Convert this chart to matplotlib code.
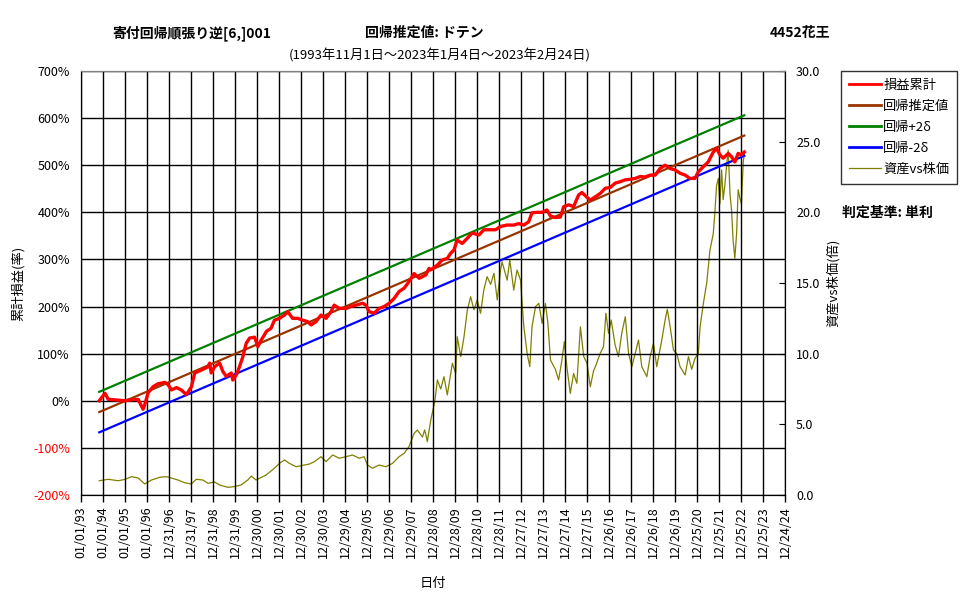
import matplotlib
matplotlib.use("Agg")
import matplotlib.pyplot as plt
import matplotlib.dates as mdates
import numpy as np
import pandas as pd

plt.rcParams['font.family'] = ['Noto Sans CJK JP', 'DejaVu Sans']

# ---------------- data ----------------
# time values are decimal years (1 year = 365 days from 1993-01-01)
red_t = [1993.83, 1994.09, 1994.24, 1994.54, 1994.99, 1995.30, 1995.60, 1995.82, 1995.90, 1996.05,
         1996.28, 1996.50, 1996.81, 1996.96, 1997.11, 1997.34, 1997.56, 1997.79, 1998.02, 1998.17,
         1998.47, 1998.77, 1998.85, 1998.92, 1999.07, 1999.30, 1999.45, 1999.60, 1999.83, 1999.90,
         2000.06, 2000.21, 2000.36, 2000.51, 2000.66, 2000.89, 2001.04, 2001.19, 2001.34, 2001.42,
         2001.64, 2001.79, 2002.02, 2002.25, 2002.40, 2002.62, 2002.85, 2003.08, 2003.30, 2003.46,
         2003.68, 2003.91, 2004.14, 2004.36, 2004.51, 2004.74, 2005.04, 2005.27, 2005.50, 2005.80,
         2005.95, 2006.10, 2006.33, 2006.55, 2006.78, 2007.01, 2007.23, 2007.46, 2007.69, 2007.91,
         2008.14, 2008.37, 2008.67, 2008.82, 2008.90, 2009.20, 2009.42, 2009.65, 2009.80, 2009.95,
         2010.10, 2010.33, 2010.56, 2010.78, 2011.09, 2011.31, 2011.62, 2011.84, 2012.07, 2012.37,
         2012.67, 2012.90, 2013.13, 2013.35, 2013.50, 2013.73, 2013.96, 2014.18, 2014.34, 2014.56,
         2014.79, 2014.94, 2015.17, 2015.39, 2015.62, 2015.77, 2016.00, 2016.15, 2016.38, 2016.60,
         2016.83, 2017.06, 2017.28, 2017.51, 2017.74, 2017.96, 2018.19, 2018.42, 2018.64, 2018.87,
         2019.10, 2019.32, 2019.55, 2019.78, 2020.00, 2020.23, 2020.46, 2020.68, 2020.91, 2021.06,
         2021.29, 2021.51, 2021.74, 2021.89, 2022.04, 2022.19, 2022.42, 2022.57, 2022.72, 2022.87,
         2023.02, 2023.15]
red_v = [0, 16, 3, 2, 0, 2, 3, -18, -8, 17,
         30, 36, 39, 34, 23, 28, 23, 13, 30, 59,
         65, 72, 80, 59, 72, 80, 62, 52, 59, 44,
         55, 73, 94, 122, 133, 135, 115, 129, 140, 147,
         154, 171, 175, 182, 189, 175, 175, 171, 168, 161,
         168, 182, 175, 189, 203, 196, 196, 200, 203, 207,
         203, 189, 186, 196, 200, 207, 217, 232, 239, 253,
         270, 260, 267, 281, 278, 288, 299, 302, 313, 320,
         341, 334, 345, 356, 352, 363, 363, 363, 370, 373,
         373, 376, 373, 380, 399, 400, 400, 405, 392, 389,
         390, 412, 416, 412, 437, 442, 432, 426, 433, 440,
         451, 453, 462, 465, 469, 470, 472, 476, 475, 479,
         479, 493, 500, 493, 490, 483, 479, 472, 472, 486,
         497, 507, 528, 536, 522, 515, 525, 518, 507, 525,
         522, 528]

reg_t = [1993.83, 2023.15]
reg_est = [-24, 563]
reg_plus = [19, 606]
reg_minus = [-67, 520]

olive_t = [1993.83, 1994.24, 1994.69, 1994.99, 1995.30, 1995.60, 1995.90, 1996.20, 1996.58, 1996.88,
           1997.11, 1997.41, 1997.71, 1998.02, 1998.24, 1998.54, 1998.77, 1999.07, 1999.30, 1999.68,
           1999.98, 2000.28, 2000.58, 2000.74, 2000.96, 2001.11, 2001.42, 2001.79, 2002.02, 2002.25,
           2002.47, 2002.78, 2003.08, 2003.38, 2003.61, 2003.91, 2004.14, 2004.44, 2004.74, 2005.04,
           2005.34, 2005.65, 2005.87, 2006.02, 2006.25, 2006.55, 2006.86, 2007.16, 2007.46, 2007.69,
           2007.91, 2008.14, 2008.29, 2008.52, 2008.62, 2008.68, 2008.74, 2008.90, 2009.08, 2009.20,
           2009.35, 2009.50, 2009.65, 2009.88, 2010.03, 2010.10, 2010.26, 2010.41, 2010.56, 2010.71,
           2010.86, 2011.01, 2011.16, 2011.31, 2011.46, 2011.62, 2011.77, 2011.92, 2012.07, 2012.14,
           2012.37, 2012.49, 2012.67, 2012.82, 2012.98, 2013.05, 2013.13, 2013.28, 2013.40, 2013.50,
           2013.66, 2013.81, 2013.96, 2014.11, 2014.22, 2014.34, 2014.56, 2014.71, 2014.86, 2014.97,
           2015.09, 2015.24, 2015.39, 2015.54, 2015.70, 2015.85, 2016.00, 2016.15, 2016.30, 2016.38,
           2016.60, 2016.75, 2016.86, 2016.98, 2017.10, 2017.28, 2017.43, 2017.58, 2017.74, 2017.89,
           2018.04, 2018.19, 2018.34, 2018.49, 2018.72, 2018.87, 2019.02, 2019.17, 2019.40, 2019.55,
           2019.65, 2019.78, 2019.93, 2020.08, 2020.23, 2020.46, 2020.61, 2020.76, 2020.91, 2021.06,
           2021.14, 2021.29, 2021.44, 2021.59, 2021.74, 2021.82, 2021.89, 2021.97, 2022.04, 2022.12,
           2022.19, 2022.27, 2022.34, 2022.42, 2022.50, 2022.57, 2022.64, 2022.72, 2022.80, 2022.87,
           2022.95, 2023.02, 2023.10, 2023.15]
olive_v = [1.01, 1.11, 1.01, 1.10, 1.30, 1.20, 0.78, 1.06, 1.25, 1.30,
           1.20, 1.06, 0.87, 0.78, 1.11, 1.06, 0.83, 0.92, 0.71, 0.54,
           0.60, 0.71, 1.06, 1.34, 1.06, 1.18, 1.42, 1.89, 2.24, 2.48,
           2.24, 2.00, 2.10, 2.19, 2.36, 2.71, 2.36, 2.83, 2.60, 2.71,
           2.83, 2.60, 2.71, 2.12, 1.89, 2.12, 2.00, 2.24, 2.71, 2.95,
           3.42, 4.36, 4.60, 4.10, 4.60, 4.25, 3.77, 5.31, 6.60, 8.14,
           7.50, 8.37, 7.08, 9.32, 8.61, 11.20, 9.79, 11.20, 13.09, 14.03,
           13.10, 13.80, 12.86, 14.50, 15.45, 14.90, 15.69, 13.80, 15.92, 16.50,
           15.20, 16.63, 14.50, 15.92, 15.20, 13.56, 11.90, 10.00, 9.08, 11.90,
           13.32, 13.56, 12.15, 13.56, 12.20, 9.55, 8.90, 8.14, 9.55, 10.85,
           9.00, 7.19, 8.60, 7.90, 11.90, 9.80, 9.32, 7.66, 8.80, 9.08,
           10.02, 10.50, 12.86, 11.44, 12.38, 10.60, 9.79, 11.44, 12.62, 10.00,
           9.08, 10.00, 10.97, 9.08, 8.37, 9.80, 10.73, 9.08, 10.97, 12.38,
           13.14, 11.90, 10.26, 10.00, 9.08, 8.49, 9.79, 8.90, 9.67, 10.02,
           11.90, 13.56, 14.98, 17.33, 18.50, 20.16, 21.90, 22.40, 20.60, 23.00,
           20.90, 22.00, 23.20, 24.40, 21.30, 20.16, 18.04, 16.75, 18.50, 21.60,
           21.00, 20.60, 23.50, 24.20]

left_ticks = [-200, -100, 0, 100, 200, 300, 400, 500, 600, 700]
right_ticks = [0, 5, 10, 15, 20, 25, 30]
n_xticks = 33  # ticks every 365 days from 1993-01-01

base = pd.Timestamp('1993-01-01')


def to_dates(ts):
    return [base + pd.Timedelta(days=(t - 1993) * 365) for t in ts]


# ---------------- figure ----------------
fig = plt.figure(figsize=(9.77, 6.0), dpi=100)
ax = fig.add_axes([81 / 977, 1 - 495 / 600, (785 - 81) / 977, (495 - 71) / 600])
ax2 = ax.twinx()

xt = [base + pd.Timedelta(days=365 * k) for k in range(n_xticks)]

ln_red, = ax.plot(to_dates(red_t), red_v, color='#FF0000', lw=2.4, zorder=5)
ln_est, = ax.plot(to_dates(reg_t), reg_est, color='#993300', lw=1.6, zorder=4)
ln_plus, = ax.plot(to_dates(reg_t), reg_plus, color='#008000', lw=1.6, zorder=4)
ln_minus, = ax.plot(to_dates(reg_t), reg_minus, color='#0000FF', lw=1.6, zorder=4)
ln_olive, = ax2.plot(to_dates(olive_t), olive_v, color='#808000', lw=0.9, zorder=3)

ax.set_zorder(ax2.get_zorder() + 1)
ax.patch.set_visible(False)

ax.set_xlim(xt[0], xt[-1])
ax.set_ylim(-200, 700)
ax2.set_ylim(0, 30)

ax.set_xticks(xt)
ax.xaxis.set_major_formatter(mdates.DateFormatter('%m/%d/%y'))
for lab in ax.get_xticklabels():
    lab.set_rotation(90)
ax.tick_params(axis='x', direction='out', length=5, width=1, labelsize=9, pad=3, colors='black')

ax.set_yticks(left_ticks)
ax.set_yticklabels([f'{v}%' for v in left_ticks])
ax.tick_params(axis='y', direction='in', length=0, labelsize=9, pad=8)
for lab, v in zip(ax.get_yticklabels(), left_ticks):
    lab.set_color('#FF0000' if v < 0 else 'black')

ax2.set_yticks(right_ticks)
ax2.set_yticklabels([f'{v:.1f}' for v in right_ticks])
ax2.tick_params(axis='y', direction='in', length=4, labelsize=9, pad=8)

ax.grid(True, color='black', lw=1)
for s in ['left', 'bottom', 'right']:
    ax.spines[s].set_color('black')
    ax2.spines[s].set_color('black')
ax.spines['top'].set_color('#808080')
ax2.spines['top'].set_color('#808080')

ax.set_ylabel('累計損益(率)', fontsize=9.5, labelpad=6)
ax2.set_ylabel('資産vs株価(倍)', fontsize=9.5, labelpad=4)
ax.set_xlabel('日付', fontsize=9.5, labelpad=14)

# titles
fig.text(112 / 977, 1 - 33 / 600, '寄付回帰順張り逆[6,]001', fontsize=10, fontweight='bold', va='center', ha='left')
fig.text(365 / 977, 1 - 33 / 600, '回帰推定値: ドテン', fontsize=10, fontweight='bold', va='center', ha='left')
fig.text(830 / 977, 1 - 33 / 600, '4452花王', fontsize=10, fontweight='bold', va='center', ha='right')
fig.text(440 / 977, 1 - 55 / 600, '(1993年11月1日～2023年1月4日～2023年2月24日)', fontsize=9.5, va='center', ha='center')
fig.text(842 / 977, 1 - 213 / 600, '判定基準: 単利', fontsize=10, fontweight='bold', va='center', ha='left')

leg = fig.legend([ln_red, ln_est, ln_plus, ln_minus, ln_olive],
                 ['損益累計', '回帰推定値', '回帰+2δ', '回帰-2δ', '資産vs株価'],
                 loc='upper left', bbox_to_anchor=(841 / 977, 1 - 71 / 600),
                 fontsize=9.5, frameon=True, fancybox=False, edgecolor='black',
                 handlelength=2.4, handletextpad=0.2, borderpad=0.6, labelspacing=0.6,
                 borderaxespad=0)
leg.get_frame().set_linewidth(1.0)
for h in leg.get_lines()[:4]:
    h.set_linewidth(2.0)

fig.savefig('out.png', dpi=100)
